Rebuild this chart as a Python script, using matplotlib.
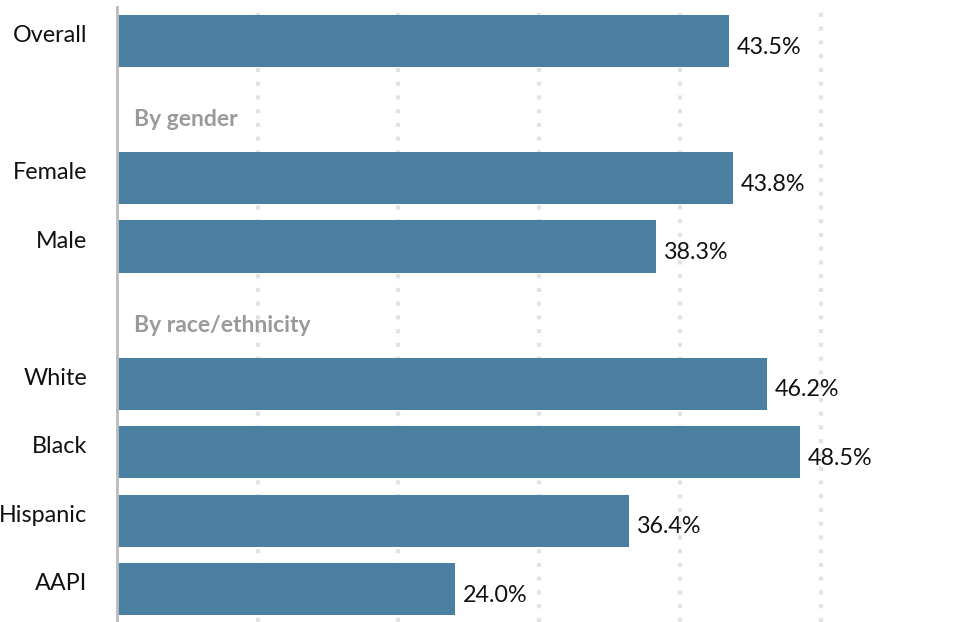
import matplotlib.pyplot as plt

plt.rcParams['font.family'] = ['Lato', 'DejaVu Sans']

# Data
labels = ['Overall', 'Female', 'Male', 'White', 'Black', 'Hispanic', 'AAPI']
values = [43.5, 43.8, 38.3, 46.2, 48.5, 36.4, 24.0]
rows = [0, 2, 3, 5, 6, 7, 8]
headers = ['By gender', 'By race/ethnicity']
header_rows = [1, 4]

bar_color = '#4a7fa1'

fig = plt.figure(figsize=(9.6, 6.22), dpi=100)
ax = fig.add_axes([117 / 960, 0, 1 - 117 / 960, (622 - 7) / 622])

ax.barh(rows, values, height=0.76, color=bar_color, zorder=2)

# value labels
for r, v in zip(rows, values):
    ax.text(v + 0.55, r + 0.09, f'{v:.1f}%', va='center', ha='left',
            fontsize=16.8, color='#111111')

# category labels
for r, lab in zip(rows, labels):
    ax.text(-2.1, r - 0.08, lab, va='center', ha='right', fontsize=16.8,
            color='#111111', clip_on=False)

# section headers
for r, h in zip(header_rows, headers):
    ax.text(1.2, r + 0.15, h, va='center', ha='left', fontsize=16.5,
            fontweight='bold', color='#9a9a9a')

ax.set_xlim(0, 59.9)
ax.set_ylim(8.48, -0.496)

ax.set_xticks([10, 20, 30, 40, 50])
ax.grid(axis='x', color='#e3e3e3', linewidth=3, linestyle=(0, (1, 2.3)), zorder=0)
ax.tick_params(left=False, bottom=False, labelleft=False, labelbottom=False)
ax.set_yticks([])

for s in ['top', 'right', 'bottom']:
    ax.spines[s].set_visible(False)
ax.spines['left'].set_color('#bbbbbb')
ax.spines['left'].set_linewidth(2)

fig.savefig('out.png', dpi=100)
